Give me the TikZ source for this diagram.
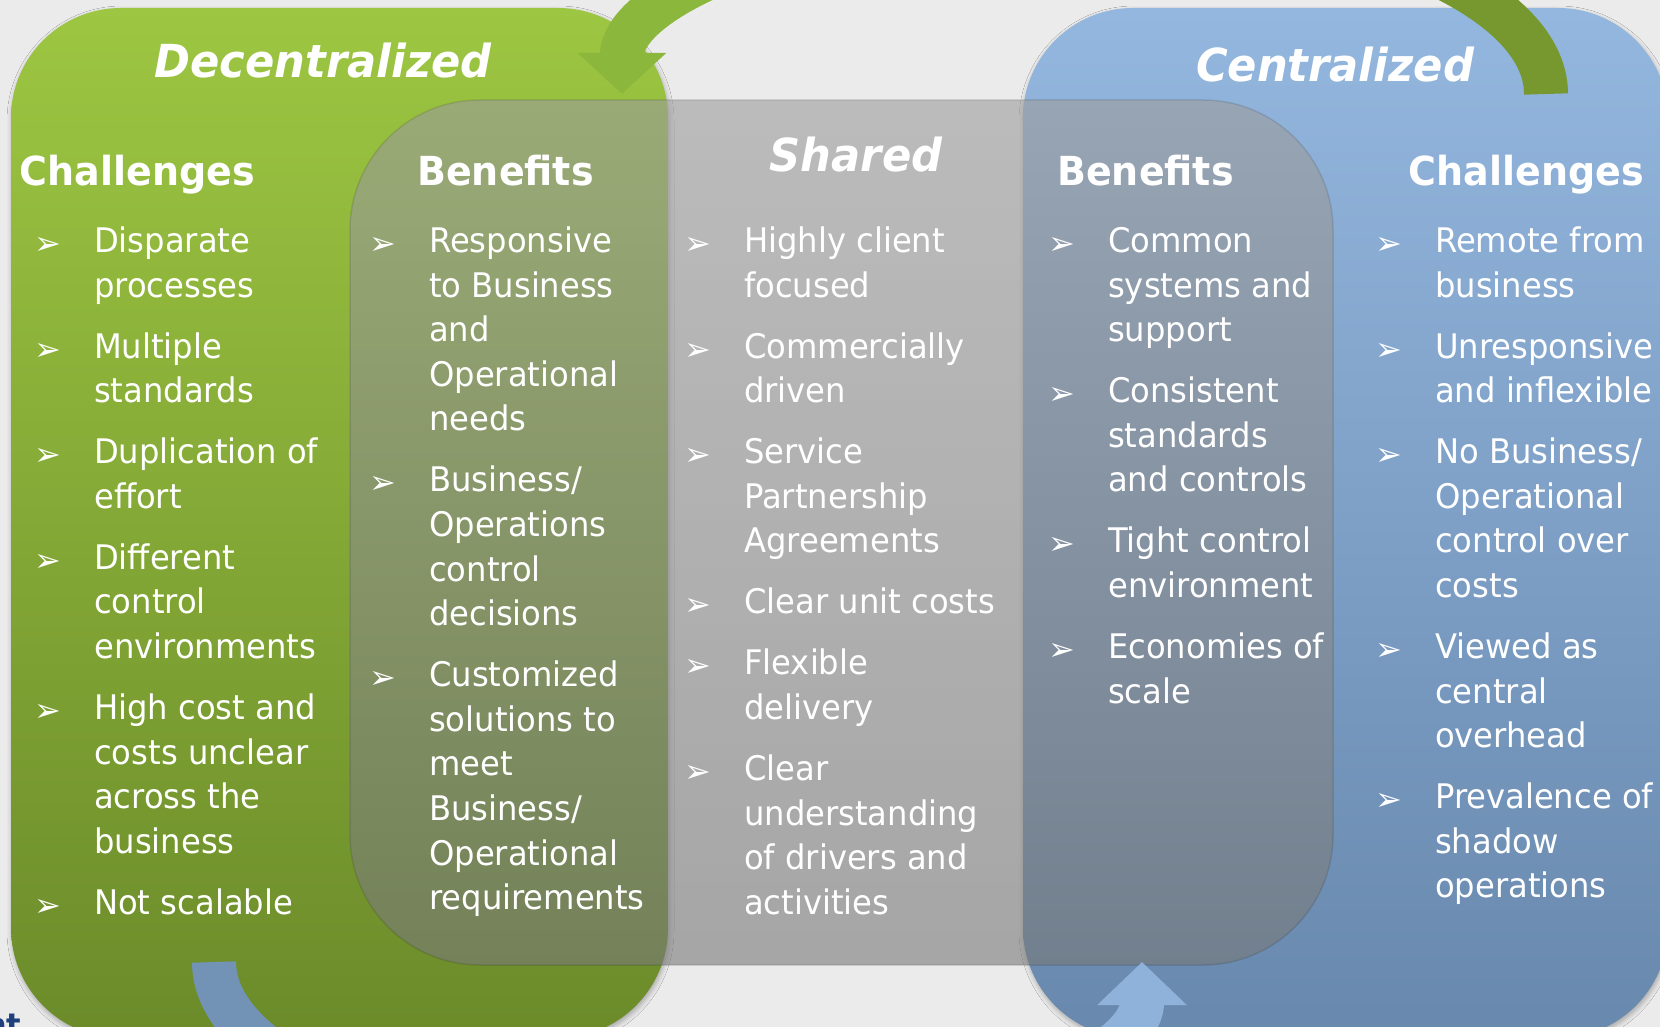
\documentclass[tikz,border=0pt]{standalone}
\usepackage{fontspec}
\setmainfont{DejaVu Sans}[FakeStretch=0.95]
\newfontfamily\dingfont{DejaVu Sans}
\usetikzlibrary{arrows.meta,shadows.blur}

\definecolor{paper}{HTML}{EBEBEB}
\definecolor{decTop}{HTML}{9DC642}
\definecolor{decBot}{HTML}{6B8B2A}
\definecolor{cenTop}{HTML}{94B7DF}
\definecolor{cenBot}{HTML}{6888AD}
\definecolor{shrTop}{HTML}{9C9C9C}
\definecolor{shrBot}{HTML}{787878}
\definecolor{loopGreen}{HTML}{8BB73C}
\definecolor{loopGreenDk}{HTML}{76982F}
\definecolor{loopBlue}{HTML}{8FB2DA}
\definecolor{loopBlueDk}{HTML}{7293B6}
\definecolor{navy}{HTML}{1F3F7F}

% arrowhead bullet hung to the left of each item
\newcommand{\bul}{\llap{\makebox[60pt][l]{\raisebox{-2pt}{\dingfont\fontsize{32}{32}\selectfont ➢}}}\rule{0pt}{30pt}}
\newcommand{\nxt}{\\[16.4pt]\bul}

\begin{document}
\begin{tikzpicture}[x=1pt, y=-1pt,
    panel/.style={rounded corners=110pt,
        blur shadow={shadow xshift=1pt, shadow yshift=-3pt, shadow blur radius=5pt, shadow opacity=30}},
    loop/.style={line width=44pt},
    title/.style={anchor=base, text=white, font=\fontsize{45.5}{50}\selectfont\bfseries\itshape},
    head/.style={anchor=base, text=white, font=\fontsize{40}{44}\selectfont\bfseries},
    items/.style={anchor=north west, inner sep=0pt, align=left, text=white,
        font=\fontsize{33.9}{44.6}\selectfont}]
    \useasboundingbox (0,0) rectangle (1660,1027);
    \clip (0,0) rectangle (1660,1027);
    \fill[paper] (0,0) rectangle (1660,1027);

    % the two models
    \path[panel, top color=decTop, bottom color=decBot] (11,8) rectangle (668,1038);
    \path[panel, top color=cenTop, bottom color=cenBot] (1023,8) rectangle (1668,1038);
    % shared services sit over both
    \path[rounded corners=130pt, top color=shrTop, bottom color=shrBot, fill opacity=0.6,
        draw=black, draw opacity=0.1, line width=1.5pt] (350,100) rectangle (1333,965);

    % loop arrows, mostly outside the frame
    \coordinate (gTail) at (1546,94);
    \coordinate (gTop) at (1084,-91);
    \coordinate (bTail) at (214,962);
    \coordinate (bLow) at (678,1147);
    \draw[loop, loopGreenDk] (gTail) arc[start angle=0, end angle=-90, x radius=462, y radius=185];
    \draw[loop, loopGreen, -{Triangle[width=86pt, length=41pt]}] (gTop)
        arc[start angle=-90, end angle=-180, x radius=462, y radius=185];
    \draw[loop, loopBlueDk] (bTail) arc[start angle=180, end angle=90, x radius=464, y radius=185];
    \draw[loop, loopBlue, -{Triangle[width=87pt, length=43pt]}] (bLow)
        arc[start angle=90, end angle=0, x radius=464, y radius=185];

    % titles and column heads
    \node[title] (dec) at (323,78) {Decentralized};
    \node[title] (shr) at (856,172) {Shared};
    \node[title] (cen) at (1335,82) {Centralized};
    \node[head] (decCh) at (137.5,186) {Challenges};
    \node[head] (decBn) at (505.5,186) {Benefits};
    \node[head] (cenBn) at (1145.5,186) {Benefits};
    \node[head] (cenCh) at (1526.5,186) {Challenges};

    % bullet lists
    \node[items] (decChList) at (94,222.3) {\bul Disparate\\processes%
        \nxt Multiple\\standards%
        \nxt Duplication of\\effort%
        \nxt Different\\control\\environments%
        \nxt High cost and\\costs unclear\\across the\\business%
        \nxt Not scalable};
    \node[items] (decBnList) at (429,222.3) {\bul Responsive\\to Business\\and\\Operational\\needs%
        \nxt Business/\\Operations\\control\\decisions%
        \nxt Customized\\solutions to\\meet\\Business/\\Operational\\requirements};
    \node[items] (shrList) at (744,222.3) {\bul Highly client\\focused%
        \nxt Commercially\\driven%
        \nxt Service\\Partnership\\Agreements%
        \nxt Clear unit costs%
        \nxt Flexible\\delivery%
        \nxt Clear\\understanding\\of drivers and\\activities};
    \node[items] (cenBnList) at (1108,222.3) {\bul Common\\systems and\\support%
        \nxt Consistent\\standards\\and controls%
        \nxt Tight control\\environment%
        \nxt Economies of\\scale};
    \node[items] (cenChList) at (1435,222.3) {\bul Remote from\\business%
        \nxt Unresponsive\\and inflexible%
        \nxt No Business/\\Operational\\control over\\costs%
        \nxt Viewed as\\central\\overhead%
        \nxt Prevalence of\\shadow\\operations};

    \node[anchor=base east, text=navy, font=\fontsize{32}{36}\selectfont\bfseries] (cut) at (25,1036) {nt};
\end{tikzpicture}
\end{document}
